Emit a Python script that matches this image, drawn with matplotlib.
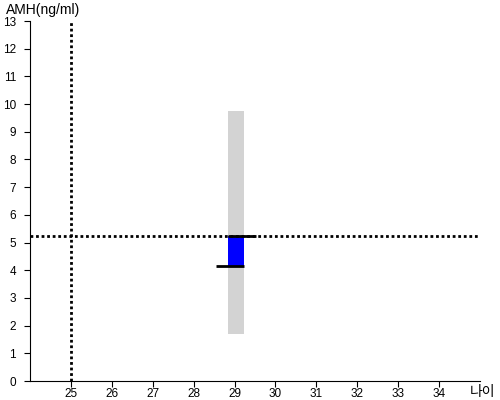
import matplotlib.pyplot as plt

plt.rcParams['font.family'] = ['Liberation Sans', 'Noto Sans CJK KR', 'DejaVu Sans']

age = 29.03
bar_width = 0.38
range_low = 1.7
range_high = 9.75
amh_prev = 4.15
amh_now = 5.23
ref_age = 25
x_ticks = list(range(25, 35))
y_ticks = list(range(0, 14))

fig = plt.figure(figsize=(5, 4), dpi=100)
ax = fig.add_axes([0.06, 0.0475, 0.9, 0.9])

# normal range bar
ax.bar(age, range_high - range_low, bottom=range_low, width=bar_width,
       color='#d3d3d3', zorder=1)
# change bar
ax.bar(age, amh_now - amh_prev, bottom=amh_prev, width=bar_width,
       color='#0000ff', zorder=2)
ax.hlines(amh_now, age - bar_width / 2, age + 0.5, color='black', lw=2, zorder=3)
ax.hlines(amh_prev, age - 0.48, age + bar_width / 2, color='black', lw=2, zorder=3)

ax.axhline(amh_now, color='black', lw=2, ls=(0, (1, 1)), zorder=2)
ax.axvline(ref_age, color='black', lw=2, ls=(0, (1, 1)), zorder=2)

ax.set_xlim(24, 35)
ax.set_ylim(0, 13)
ax.set_xticks(x_ticks)
ax.set_yticks(y_ticks)
ax.tick_params(labelsize=8.5, length=4, color='black')
ax.tick_params(axis='x', pad=1)
ax.tick_params(axis='y', pad=6)
for s in ['top', 'right']:
    ax.spines[s].set_visible(False)

fig.text(0.012, 0.975, 'AMH(ng/ml)', fontsize=10, va='center', ha='left')
fig.text(0.99, 0.02, '나이', fontsize=10, va='center', ha='right')

fig.savefig('out.png')
